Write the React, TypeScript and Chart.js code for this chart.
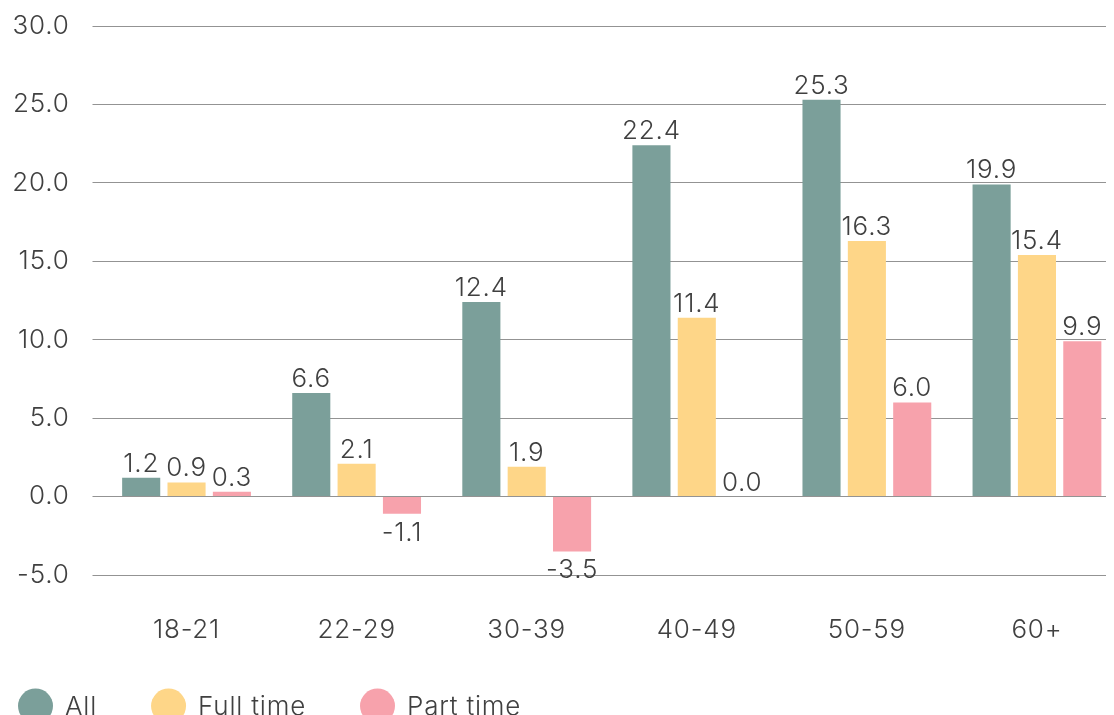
import { useEffect, useRef } from 'react';
import { Chart, registerables } from 'chart.js';

Chart.register(...registerables);

const categories = ['18-21', '22-29', '30-39', '40-49', '50-59', '60+'];
const seriesLabels = ['All', 'Full time', 'Part time'];
const allValues = [1.2, 6.6, 12.4, 22.4, 25.3, 19.9];
const fullTimeValues = [0.9, 2.1, 1.9, 11.4, 16.3, 15.4];
const partTimeValues = [0.3, -1.1, -3.5, 0.0, 6.0, 9.9];
const seriesColors = ['#7b9f9a', '#fed688', '#f7a2ac'];
const yMin = -5;
const yMax = 30;
const yStep = 5;

const FONT = 'Inter, "Noto Sans", sans-serif';
const WEIGHT = 300;
const TEXT = '#404040';
const FONT_SIZE = 26;

const spacing = {
  id: 'spacing',
  beforeDraw(chart: any) {
    (chart.ctx as any).letterSpacing = '0.8px';
  },
};

const valueLabels = {
  id: 'valueLabels',
  afterDatasetsDraw(chart: any) {
    const ctx = chart.ctx;
    ctx.save();
    ctx.font = `${WEIGHT} ${FONT_SIZE}px ${FONT}`;
    ctx.fillStyle = TEXT;
    ctx.textAlign = 'center';
    ctx.textBaseline = 'alphabetic';
    chart.data.datasets.forEach((ds: any, di: number) => {
      const meta = chart.getDatasetMeta(di);
      meta.data.forEach((bar: any, i: number) => {
        const v = ds.data[i] as number;
        const txt = v.toFixed(1);
        if (v >= 0) {
          ctx.fillText(txt, bar.x, bar.y - 6);
        } else {
          ctx.fillText(txt, bar.x, bar.y + 27);
        }
      });
    });
    ctx.restore();
  },
};

const customLegend = {
  id: 'customLegend',
  afterDraw(chart: any) {
    const ctx = chart.ctx;
    ctx.save();
    ctx.font = `${WEIGHT} ${FONT_SIZE}px ${FONT}`;
    ctx.textBaseline = 'middle';
    ctx.textAlign = 'left';
    const cy = chart.height - 19;
    let x = 10;
    chart.data.datasets.forEach((ds: any) => {
      ctx.fillStyle = ds.backgroundColor;
      ctx.beginPath();
      ctx.arc(x + 17.5, cy, 17.5, 0, Math.PI * 2);
      ctx.fill();
      ctx.fillStyle = TEXT;
      const tx = x + 47;
      ctx.fillText(ds.label, tx, cy + 1);
      x = tx + ctx.measureText(ds.label).width + 54;
    });
    ctx.restore();
  },
};

export default function App() {
  const ref = useRef<HTMLCanvasElement | null>(null);

  useEffect(() => {
    document.body.style.overflow = 'hidden';
    if (!ref.current) return;
    const values = [allValues, fullTimeValues, partTimeValues];
    const chart = new Chart(ref.current, {
      type: 'bar',
      data: {
        labels: categories,
        datasets: seriesLabels.map((label, i) => ({
          label,
          data: values[i],
          backgroundColor: seriesColors[i],
          borderWidth: 0,
          categoryPercentage: 0.8,
          barPercentage: 0.84,
        })),
      },
      options: {
        animation: false,
        responsive: true,
        maintainAspectRatio: false,
        layout: { padding: { top: 18, left: 0, right: 2, bottom: 77 } },
        plugins: {
          legend: { display: false },
          tooltip: { enabled: false },
        },
        scales: {
          x: {
            grid: { display: false, drawTicks: false },
            border: { display: false },
            ticks: {
              color: TEXT,
              font: { family: FONT, size: FONT_SIZE, weight: WEIGHT },
              padding: 40,
              maxRotation: 0,
            },
            afterFit: (s: any) => {
              s.height = 73;
              s.paddingLeft = 0;
              s.paddingRight = 0;
            },
          },
          y: {
            min: yMin,
            max: yMax,
            grid: { color: '#939393', lineWidth: 1, drawTicks: true, tickLength: 9 },
            border: { display: false },
            ticks: {
              stepSize: yStep,
              color: TEXT,
              font: { family: FONT, size: FONT_SIZE, weight: WEIGHT },
              padding: 23,
              callback: (v: any) => Number(v).toFixed(1),
            },
            afterFit: (s: any) => {
              s.width = 93.5;
              s.paddingTop = 0;
              s.paddingBottom = 0;
            },
          },
        },
      },
      plugins: [spacing, valueLabels, customLegend],
    });
    return () => chart.destroy();
  }, []);

  return (
    <div style={{ position: 'relative', width: 1116, height: 717 }}>
      <canvas ref={ref} />
    </div>
  );
}
